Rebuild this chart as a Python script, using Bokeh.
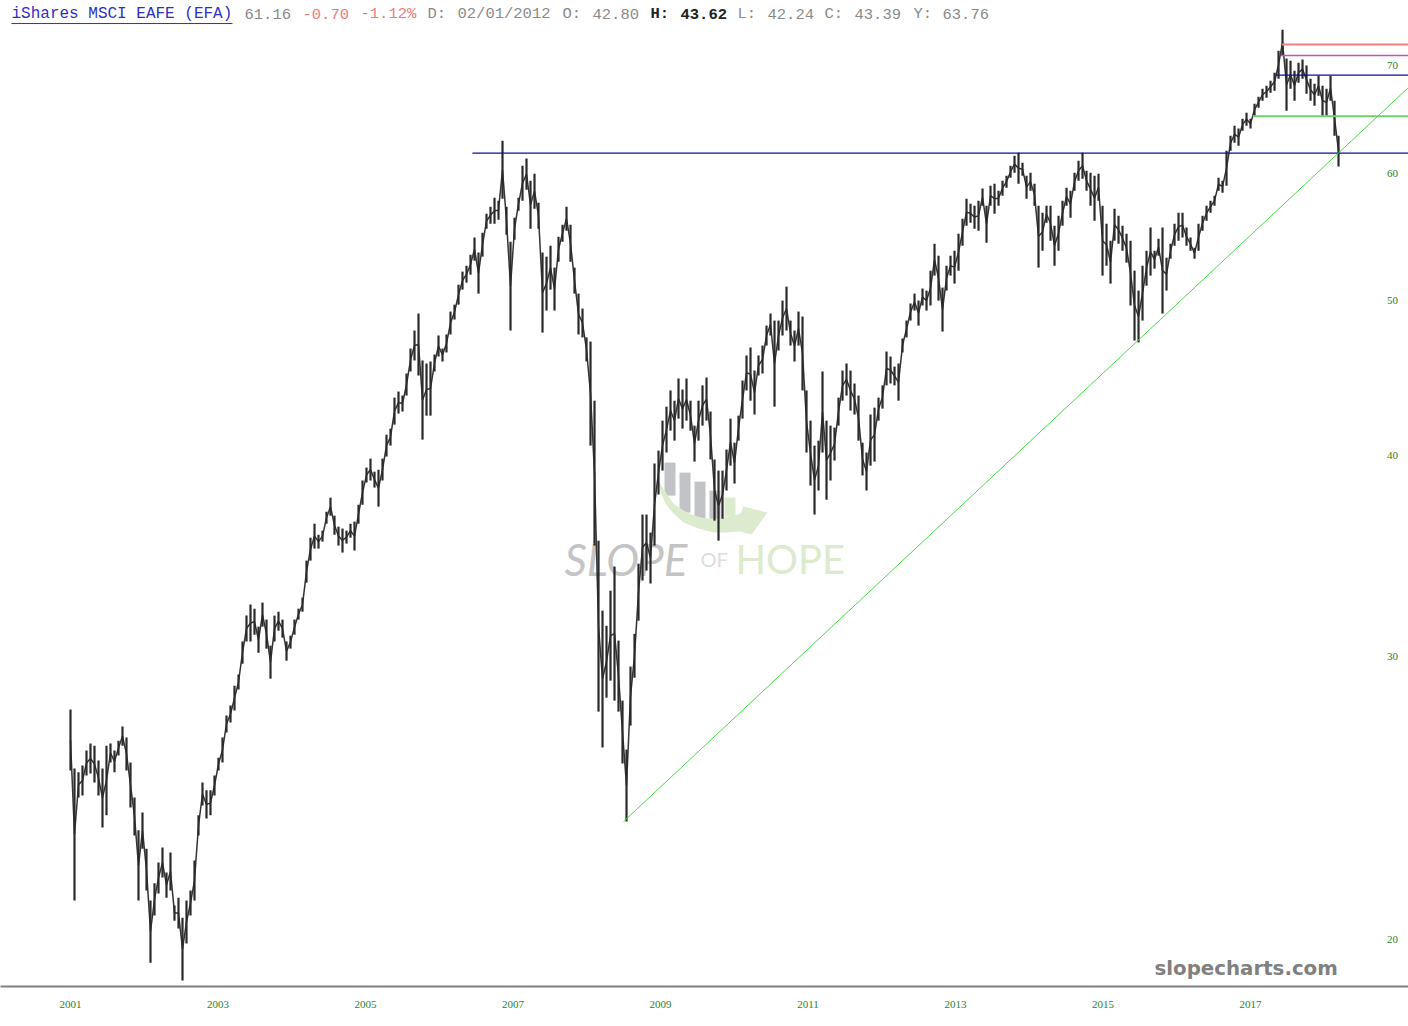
import numpy as np
from bokeh.core.properties import value
from bokeh.embed import file_html
from bokeh.models import FixedTicker, Range1d
from bokeh.plotting import figure
from bokeh.resources import INLINE

# ---- data: EFA price history, sampled every BAR_YEARS from 2001 ----
START_YEAR = 2001.0
BAR_YEARS = 4 / 73.75

highs = [
 27.81,25.56,25.42,25.67,26.23,26.49,26.41,25.85,25.56,26.41,
 26.49,26.23,26.60,27.14,26.72,25.78,24.52,23.39,24.00,22.78,
 21.15,21.68,22.34,22.82,22.02,22.66,21.00,21.24,20.64,21.15,
 21.46,22.40,23.90,25.05,24.77,24.77,25.30,25.96,26.72,27.58,
 27.97,28.78,29.24,30.66,31.82,32.33,32.14,31.32,32.42,31.64,
 30.48,31.82,32.00,31.64,30.66,30.92,31.64,32.14,32.65,34.43,
 35.58,36.30,35.73,35.94,36.93,37.68,36.72,36.15,36.05,35.94,
 36.30,36.41,37.30,38.62,39.34,39.85,39.11,39.22,39.85,41.24,
 41.60,43.49,43.87,43.62,45.02,46.66,47.88,49.06,45.87,45.67,
 45.80,46.26,47.54,46.66,47.61,49.20,49.69,51.13,52.10,52.54,
 53.38,54.70,53.54,55.09,56.61,57.18,57.92,57.67,62.85,57.18,
 54.38,56.28,57.92,60.64,61.26,59.35,59.95,57.51,53.54,53.23,
 54.07,52.40,54.77,55.72,57.18,55.72,52.40,50.48,49.41,47.41,
 47.13,43.30,35.43,32.05,31.36,32.98,34.14,30.70,28.17,26.26,
 29.58,31.00,34.28,36.78,36.78,35.84,39.57,40.31,42.08,42.93,
 43.94,43.30,44.70,44.00,44.70,43.30,41.78,43.30,44.26,44.76,
 42.63,39.80,39.17,39.17,40.37,42.20,40.77,42.38,44.57,46.20,
 46.73,45.21,46.20,46.86,48.22,49.06,48.57,48.57,49.98,50.99,
 48.57,47.88,49.20,48.85,43.94,42.08,40.60,40.89,45.15,42.08,
 41.78,41.66,43.49,45.21,45.67,45.21,44.38,43.62,40.77,40.20,
 42.45,42.87,43.49,44.26,46.46,46.13,45.47,45.67,47.34,48.57,
 49.77,50.48,49.98,50.85,50.70,52.17,54.23,53.30,50.92,52.54,
 53.30,53.69,55.01,56.20,57.84,57.43,57.26,57.67,58.68,57.26,
 58.93,59.10,58.51,59.35,59.78,60.64,61.52,61.78,60.90,59.78,
 60.04,59.10,57.26,56.69,57.26,57.26,55.64,56.44,57.67,58.76,
 58.51,60.04,61.08,61.78,60.21,60.04,59.78,59.95,57.26,55.80,
 54.46,57.01,56.44,55.64,55.01,54.46,52.17,50.70,52.54,53.69,
 55.49,53.69,54.61,55.49,53.15,54.23,55.80,56.69,56.69,55.49,
 54.70,53.92,55.80,56.44,57.26,57.67,58.09,59.60,59.35,61.96,
 63.30,64.22,63.95,64.87,65.42,64.87,66.27,66.95,67.71,68.00,
 68.49,69.28,71.50,73.69,70.70,70.48,69.48,70.28,70.60,70.00,
 68.69,68.20,68.99,68.00,67.71,68.99,66.56,63.30,
]
lows = [
 25.49,21.15,24.52,24.59,25.30,25.38,25.05,24.59,23.49,23.90,
 25.78,25.42,26.04,26.41,25.49,24.17,23.22,21.15,22.78,21.46,
 19.35,20.70,21.37,21.86,21.24,21.46,20.55,20.32,18.86,19.89,
 20.70,21.15,23.22,24.24,23.79,23.90,24.59,25.49,25.78,26.91,
 27.30,27.77,28.62,29.70,30.66,30.66,30.96,30.17,31.32,30.35,
 29.07,30.66,31.14,30.83,29.83,30.35,30.96,31.64,32.00,33.36,
 34.43,35.03,35.03,35.38,36.30,36.72,35.73,35.18,34.83,35.28,
 35.58,34.93,36.30,37.30,38.51,38.62,38.23,37.20,38.62,39.97,
 40.60,41.84,42.51,42.63,43.62,45.15,45.87,44.89,40.95,42.38,
 42.38,45.15,46.13,45.80,46.40,47.61,48.64,49.69,50.77,51.28,
 51.87,52.92,50.48,53.23,55.41,55.80,55.80,56.12,57.84,54.93,
 47.88,54.54,56.85,57.67,58.59,55.41,57.01,55.41,47.74,49.27,
 50.77,49.27,52.84,54.38,55.25,52.84,50.48,47.61,47.41,45.80,
 40.60,35.18,27.73,26.34,28.29,28.99,28.17,27.73,25.74,23.69,
 27.18,29.11,31.59,33.46,33.94,33.32,35.18,37.85,39.17,40.20,
 41.48,40.89,42.20,41.60,42.08,41.48,39.68,40.89,41.78,42.08,
 39.80,36.46,35.43,36.56,38.07,39.45,38.45,40.89,42.20,43.94,
 43.30,42.45,44.89,45.02,46.86,47.54,42.93,46.53,47.54,47.88,
 46.86,45.80,46.86,43.94,40.20,38.34,36.78,38.07,40.20,37.57,
 38.62,39.74,41.78,43.30,43.62,42.69,42.45,40.89,38.90,38.07,
 39.45,39.68,42.08,42.81,44.26,44.38,44.26,43.30,46.40,47.41,
 48.57,49.27,48.22,49.63,49.27,49.63,51.80,49.98,47.81,50.70,
 51.80,51.21,52.17,54.07,55.64,55.88,55.41,55.25,57.26,54.30,
 57.26,56.61,57.26,58.09,58.76,59.60,60.04,59.10,59.78,57.84,
 58.51,57.26,52.40,53.69,55.88,54.46,52.54,53.69,55.64,57.26,
 56.28,58.51,59.35,59.52,58.51,57.26,56.04,57.67,51.80,52.54,
 51.21,54.46,54.23,53.69,52.77,49.63,47.20,47.07,48.57,51.06,
 51.80,52.32,53.30,49.06,50.70,53.07,54.07,54.46,54.70,54.07,
 53.69,53.07,53.69,55.25,56.04,56.69,57.26,58.51,58.34,58.93,
 61.96,62.67,62.40,63.76,64.22,63.95,65.14,65.89,66.56,66.85,
 67.33,67.52,68.69,71.00,65.61,67.71,66.56,68.29,68.69,67.23,
 66.56,66.08,67.04,65.14,65.14,66.56,63.30,60.56,
]

year_ticks = [2001, 2003, 2005, 2007, 2009, 2011, 2013, 2015, 2017]
price_ticks = [20, 30, 40, 50, 60, 70]

# drawn studies: (start year, price, colour, width)
levels = [
 (2006.45, 61.75, "#0c0c9c", 1.2),
 (2017.35, 69.05, "#0c0c9c", 1.2),
 (2017.03, 65.10, "#70d070", 2.0),
 (2017.42, 72.14, "#ee7f7f", 2.0),
 (2017.41, 71.01, "#c850b8", 1.5),
]
trend_years = [2008.50, 2019.142]
trend_prices = [23.69, 67.83]

header = [
 ("iShares MSCI EAFE (EFA)", 11, "#2f2fc4", "normal", "16px"),
 ("61.16", 244, "#8a8a8a", "normal", "15.5px"),
 ("-0.70", 302, "#ee7b7b", "normal", "15.5px"),
 ("-1.12%", 360, "#ee7b7b", "normal", "15.5px"),
 ("D:", 427, "#8a8a8a", "normal", "15.5px"),
 ("02/01/2012", 457, "#8a8a8a", "normal", "15.5px"),
 ("O:", 562, "#8a8a8a", "normal", "15.5px"),
 ("42.80", 592, "#8a8a8a", "normal", "15.5px"),
 ("H:", 650, "#222222", "bold", "15.5px"),
 ("43.62", 680, "#222222", "bold", "15.5px"),
 ("L:", 737, "#8a8a8a", "normal", "15.5px"),
 ("42.24", 767, "#8a8a8a", "normal", "15.5px"),
 ("C:", 824, "#8a8a8a", "normal", "15.5px"),
 ("43.39", 854, "#8a8a8a", "normal", "15.5px"),
 ("Y:", 913, "#8a8a8a", "normal", "15.5px"),
 ("63.76", 942, "#8a8a8a", "normal", "15.5px"),
]

# ---- page geometry ----
X_RANGE = (2000.051, 2019.142)
Y_RANGE = (18.70, 76.84)
RIGHT_YEAR = X_RANGE[1]


def px_x(px):
    return 2001 + (px - 70) / 73.75


def px_y(py):
    return 70 * np.exp((65 - py) / 697.6)


p = figure(
    width=1408, height=1026, output_backend="svg", toolbar_location=None,
    x_range=Range1d(*X_RANGE), y_range=Range1d(*Y_RANGE), y_axis_type="log",
    y_axis_location=None, min_border_left=0, min_border_right=0,
    min_border_top=0, min_border_bottom=40, outline_line_color=None,
    background_fill_color="white", border_fill_color="white",
)
p.grid.visible = False

ax = p.xaxis[0]
ax.ticker = FixedTicker(ticks=year_ticks)
ax.major_tick_line_color = None
ax.minor_tick_line_color = None
ax.axis_line_color = "#808080"
ax.axis_line_width = 2
ax.major_label_text_color = "#2a7f2a"
ax.major_label_text_font = "Liberation Serif"
ax.major_label_text_font_size = "11px"
ax.major_label_standoff = 8

# ---- watermark ----
bars_px = [(664, 675, 462, 495), (679, 690, 472, 512), (694, 705, 481, 518), (709, 720, 490, 520)]
for l_, r_, t_, b_ in bars_px:
    p.quad(left=px_x(l_), right=px_x(r_), top=px_y(t_), bottom=px_y(b_), fill_color="#c1c3c6", line_color=None)
p.quad(left=px_x(724), right=px_x(735), top=px_y(497), bottom=px_y(516), fill_color="#dcebcd", line_color=None)
swoosh = [(658, 480), (664, 490), (673, 503), (683, 510), (693, 515), (705, 518), (717, 518), (730, 516),
          (740, 513), (743, 506), (767, 512), (751, 534), (740, 531), (725, 532), (713, 532), (698, 528),
          (683, 522), (672, 512), (665, 503), (660, 492)]
p.patch([px_x(a) for a, _ in swoosh], [px_y(b) for _, b in swoosh], fill_color="#dcebcd", line_color=None)
p.text(x=[px_x(564)], y=[px_y(558)], text=["SLOPE"], text_font=value("Lato"), text_font_style="italic",
       text_font_size="44px", text_color="#c4c4c4", text_baseline="middle")
p.text(x=[px_x(700)], y=[px_y(558)], text=["OF"], text_font=value("Lato"),
       text_font_size="20px", text_color="#dcdcdc", text_baseline="middle")
p.text(x=[px_x(735)], y=[px_y(558)], text=["HOPE"], text_font=value("Lato"),
       text_font_size="40px", text_color="#dcebcd", text_baseline="middle")

# ---- price series ----
dates = START_YEAR + np.arange(len(highs)) * BAR_YEARS
h = np.array(highs)
l = np.array(lows)
p.line(dates, np.sqrt(h * l), line_color="#333333", line_width=1.5)
p.segment(dates, l, dates, h, line_color="#2a2a2a", line_width=2.2)

# ---- studies ----
for start, price, colour, width in levels:
    p.line([start, RIGHT_YEAR], [price, price], line_color=colour, line_width=width)
p.line(trend_years, trend_prices, line_color="#44dd44", line_width=1.0)

# ---- price labels ----
p.text(x=[px_x(1392)] * len(price_ticks), y=price_ticks, text=[str(t) for t in price_ticks],
       text_font=value("Liberation Serif"), text_font_size="11px", text_color="#2a7f2a",
       text_align="center", text_baseline="middle")

# ---- header ----
for txt, xpx, colour, style, size in header:
    p.text(x=[px_x(xpx)], y=[px_y(13.2)], text=[txt], text_font=value("Liberation Mono"), text_font_size=size,
           text_font_style=style, text_color=colour, text_baseline="middle")
p.line([px_x(11), px_x(232)], [px_y(23), px_y(23)], line_color="#2f2fc4", line_width=1)

p.text(x=[px_x(1154)], y=[px_y(968)], text=["slopecharts.com"], text_font=value("DejaVu Sans"),
       text_font_style="bold", text_font_size="19.8px", text_color="#808080", text_baseline="middle")

open("out.html", "w").write(file_html(p, INLINE))
